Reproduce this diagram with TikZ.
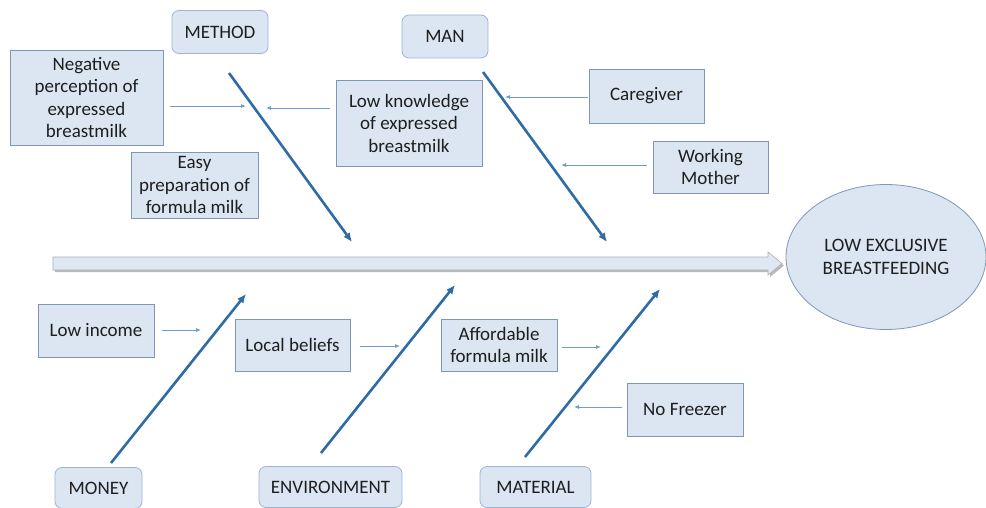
\documentclass[tikz,border=0pt]{standalone}
\usepackage{fontspec}
\setmainfont{Carlito}
\usetikzlibrary{arrows.meta,shapes.geometric}
\definecolor{boxfill}{HTML}{DCE6F2}
\definecolor{boxline}{HTML}{7F97B5}
\definecolor{catline}{HTML}{9DB5D3}
\definecolor{bone}{HTML}{2E6CA6}
\definecolor{thin}{HTML}{6F9DCD}
\definecolor{txt}{HTML}{1E1E1E}
\definecolor{spinefill}{HTML}{DFE8F2}
\definecolor{spineline}{HTML}{A8B0BA}
\begin{document}
\begin{tikzpicture}[x=1pt,y=-1pt,
  every node/.style={font=\fontsize{19}{22.5}\selectfont, text=txt},
  box/.style={draw=boxline, fill=boxfill, line width=0.8pt, align=center, inner sep=0pt},
  catbox/.style={draw=catline, fill=boxfill, line width=0.8pt, rounded corners=7pt, align=center, inner sep=0pt},
  bonearrow/.style={draw=bone, line width=2.6pt, -{Latex[length=9pt,width=8pt]}},
  thinarrow/.style={draw=thin, line width=0.8pt, -{Latex[length=5pt,width=4pt]}}]
\useasboundingbox (0,0) rectangle (986,508);
\begin{scope}
\clip (0,0) rectangle (986,508);
% spine
\fill[gray!55] (55,259) -- (770,259) -- (770,254) -- (784,265.5) -- (770,277) -- (770,272) -- (55,272) -- cycle;
\draw[spineline, fill=spinefill, line width=0.6pt, line join=miter] (53,257) -- (768,257) -- (768,252) -- (782,263.5) -- (768,275) -- (768,270) -- (53,270) -- cycle;
% effect
\node[ellipse, draw=boxline, fill=boxfill, line width=0.8pt, minimum width=200, minimum height=145, inner sep=0pt, align=center] (effect) at (886,257) {LOW EXCLUSIVE\\BREASTFEEDING};
% categories
\node[catbox, minimum width=96, minimum height=43] (method) at (220,32) {METHOD};
\node[catbox, minimum width=86, minimum height=43] (man) at (445,36.5) {MAN};
\node[catbox, minimum width=87, minimum height=41] (money) at (98.5,488) {MONEY};
\node[catbox, minimum width=143, minimum height=41] (env) at (330.5,487) {ENVIRONMENT};
\node[catbox, minimum width=111, minimum height=41] (material) at (535.5,487) {MATERIAL};
% causes
\node[box, minimum width=153, minimum height=95] (neg) at (86.5,97.5) {Negative\\perception of\\expressed\\breastmilk};
\node[box, minimum width=127, minimum height=66] (easy) at (194.5,185) {Easy\\preparation of\\formula milk};
\node[box, minimum width=146, minimum height=86] (lowk) at (409,123) {Low knowledge\\of expressed\\breastmilk};
\node[box, minimum width=115, minimum height=54] (care) at (646.5,96) {Caregiver};
\node[box, minimum width=115, minimum height=52] (work) at (710.5,167) {Working\\Mother};
\node[box, minimum width=116, minimum height=53] (lowinc) at (96,330.5) {Low income};
\node[box, minimum width=115, minimum height=52] (local) at (292.5,345) {Local beliefs};
\node[box, minimum width=116, minimum height=52] (afford) at (499,345) {Affordable\\formula milk};
\node[box, minimum width=116, minimum height=53] (nofreeze) at (685,409.5) {No Freezer};
% bone coordinates
\coordinate (m1) at (229,73);  \coordinate (m2) at (352,242);
\coordinate (n1) at (483,72);  \coordinate (n2) at (607,242);
\coordinate (o1) at (111,463); \coordinate (o2) at (246,294);
\coordinate (e1) at (321,453); \coordinate (e2) at (455,285);
\coordinate (t1) at (525,457); \coordinate (t2) at (660,289);
\draw[bonearrow] (m1) -- (m2);
\draw[bonearrow] (n1) -- (n2);
\draw[bonearrow] (o1) -- (o2);
\draw[bonearrow] (e1) -- (e2);
\draw[bonearrow] (t1) -- (t2);
% thin arrow end points
\coordinate (a1) at (246,106);
\coordinate (a2) at (266,108);
\coordinate (a3) at (505,97);
\coordinate (a4) at (561,165);
\coordinate (a5) at (201,330);
\coordinate (a6) at (400,346);
\coordinate (a7) at (601,347);
\coordinate (a8) at (574,407);
\draw[thinarrow] ([xshift=7]neg.east |- a1) -- (a1);
\draw[thinarrow] ([xshift=-6]lowk.west |- a2) -- (a2);
\draw[thinarrow] ([xshift=-1]care.west |- a3) -- (a3);
\draw[thinarrow] ([xshift=-6]work.west |- a4) -- (a4);
\draw[thinarrow] ([xshift=8]lowinc.east |- a5) -- (a5);
\draw[thinarrow] ([xshift=10]local.east |- a6) -- (a6);
\draw[thinarrow] ([xshift=5]afford.east |- a7) -- (a7);
\draw[thinarrow] ([xshift=-5]nofreeze.west |- a8) -- (a8);
\end{scope}
\end{tikzpicture}
\end{document}
